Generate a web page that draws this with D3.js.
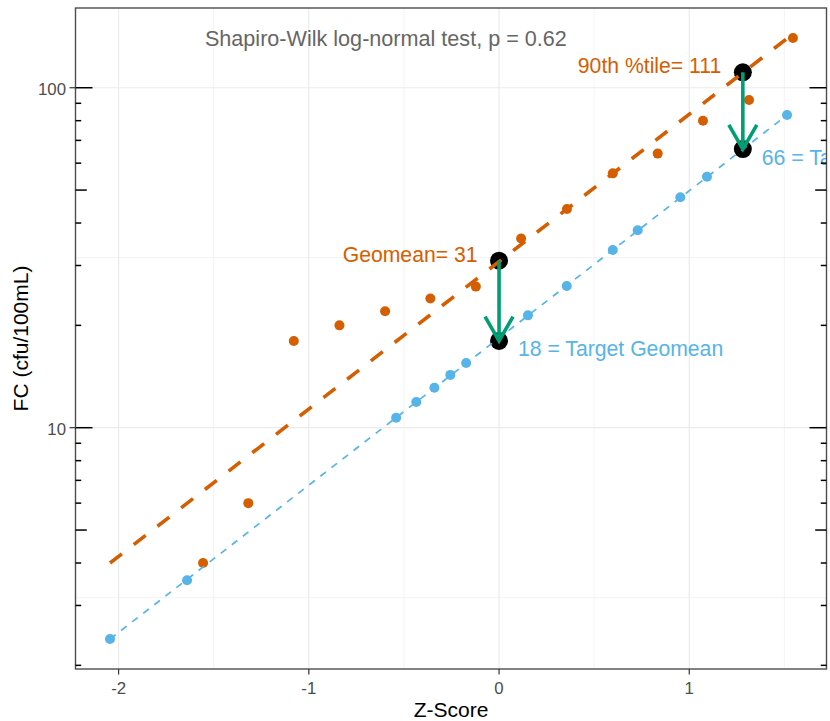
<!DOCTYPE html>
<html><head><meta charset="utf-8">
<script src="https://cdn.jsdelivr.net/npm/d3@7"></script>
<style>body{margin:0;background:#fff}svg{display:block}text{font-family:"Liberation Sans",Arial,sans-serif}</style>
</head><body>
<svg id="chart" width="830" height="721"></svg>
<script>
// ---- data ----
const zOrange = [-1.556,-1.318,-1.079,-0.839,-0.599,-0.361,-0.122,0.116,0.357,0.598,0.834,1.072,1.314,1.545];
const fcOrange = [4,6,18,20,22,24,26,36,44,56,64,80,92,140];
const zBlue = [-2.045,-1.640,-0.541,-0.435,-0.340,-0.256,-0.173,0.152,0.356,0.598,0.729,0.953,1.093,1.514];
const fcBlue = [2.39,3.56,10.7,11.9,13.1,14.3,15.5,21.4,26.1,33.3,38.1,47.6,54.7,83.1];
const lineZ = [-2.045, 1.514];
const lineOrange = [4.0, 139.6];
const lineBlue = [2.39, 83.1];
const statZ = [0, 1.2816];
const observedStat = [31, 111];
const targetStat = [18, 66];
const observedLabels = ["Geomean= 31", "90th %tile= 111"];
const targetLabels = ["18 = Target Geomean", "66 = Target 90th %tile"];
const xTicks = [-2,-1,0,1];
const xTickLabels = ["-2","-1","0","1"];
const xMinor = [-1.5,-0.5,0.5,1.5];
const yTicks = [10,100];
const yTickLabels = ["10","100"];
const yMinorGrid = [Math.sqrt(10), Math.sqrt(1000)];
const logTickVals = [2,3,4,5,6,7,8,9,10,20,30,40,50,60,70,80,90,100];
const testLabel = "Shapiro-Wilk log-normal test, p = 0.62";
const testLabelZ = -0.595, testLabelFC = 133;

const ORANGE = "#D55E00", BLUE = "#56B4E9", GREEN = "#009E73";

const svg = d3.select("#chart");
const L = 75.5, R = 826.5, T = 8, B = 669;
const x = d3.scaleLinear().domain([-2.2265, 1.7214]).range([L, R]);
const y = d3.scaleLog().domain([1.951, 171.6]).range([B, T]);

svg.append("defs").append("clipPath").attr("id","clip")
  .append("rect").attr("x",L).attr("y",T).attr("width",R-L).attr("height",B-T);

// grid
const grid = svg.append("g");
grid.selectAll(".xmin").data(xMinor).enter().append("line")
  .attr("x1",d=>x(d)).attr("x2",d=>x(d)).attr("y1",T).attr("y2",B)
  .attr("stroke","#EBEBEB").attr("stroke-width",0.6);
grid.selectAll(".ymin").data(yMinorGrid).enter().append("line")
  .attr("y1",d=>y(d)).attr("y2",d=>y(d)).attr("x1",L).attr("x2",R)
  .attr("stroke","#EBEBEB").attr("stroke-width",0.6);
grid.selectAll(".xmaj").data(xTicks).enter().append("line")
  .attr("x1",d=>x(d)).attr("x2",d=>x(d)).attr("y1",T).attr("y2",B)
  .attr("stroke","#EBEBEB").attr("stroke-width",1.2);
grid.selectAll(".ymaj").data(yTicks).enter().append("line")
  .attr("y1",d=>y(d)).attr("y2",d=>y(d)).attr("x1",L).attr("x2",R)
  .attr("stroke","#EBEBEB").attr("stroke-width",1.2);

const panel = svg.append("g").attr("clip-path","url(#clip)");

// points
panel.selectAll(".po").data(zOrange.map((z,i)=>[z,fcOrange[i]])).enter().append("circle")
  .attr("cx",d=>x(d[0])).attr("cy",d=>y(d[1])).attr("r",5).attr("fill",ORANGE);
panel.selectAll(".pb").data(zBlue.map((z,i)=>[z,fcBlue[i]])).enter().append("circle")
  .attr("cx",d=>x(d[0])).attr("cy",d=>y(d[1])).attr("r",5).attr("fill",BLUE);

// black stat points
const statPts = statZ.map((z,i)=>[z,observedStat[i]]).concat(statZ.map((z,i)=>[z,targetStat[i]]));
panel.selectAll(".pk").data(statPts).enter().append("circle")
  .attr("cx",d=>x(d[0])).attr("cy",d=>y(d[1])).attr("r",9).attr("fill","#000");

// fitted lines
const line = d3.line().x(d=>x(d[0])).y(d=>y(d[1]));
panel.append("path").datum(lineZ.map((z,i)=>[z,lineBlue[i]])).attr("d",line)
  .attr("fill","none").attr("stroke",BLUE).attr("stroke-width",1.7).attr("stroke-dasharray","7,7");
panel.append("path").datum(lineZ.map((z,i)=>[z,lineOrange[i]])).attr("d",line)
  .attr("fill","none").attr("stroke",ORANGE).attr("stroke-width",3.6).attr("stroke-dasharray","15,15");

// arrows
const AL = 28, ang = Math.PI/6;
statZ.forEach((z,i)=>{
  const xs = x(z), y0 = y(observedStat[i]), y1 = y(targetStat[i]);
  panel.append("line").attr("x1",xs).attr("x2",xs).attr("y1",y0).attr("y2",y1)
    .attr("stroke",GREEN).attr("stroke-width",3.6);
  panel.append("path")
    .attr("d",`M${xs-AL*Math.sin(ang)},${y1-AL*Math.cos(ang)}L${xs},${y1}L${xs+AL*Math.sin(ang)},${y1-AL*Math.cos(ang)}`)
    .attr("fill","none").attr("stroke",GREEN).attr("stroke-width",3.6).attr("stroke-linejoin","miter");
});

// labels
panel.append("text").attr("x",x(testLabelZ)).attr("y",y(testLabelFC)).attr("text-anchor","middle")
  .attr("font-size",21.6).attr("fill","#666666").text(testLabel);
statZ.forEach((z,i)=>{
  panel.append("text").attr("x",x(z)-21.5).attr("y",y(observedStat[i])+1)
    .attr("text-anchor","end").attr("font-size",21.2).attr("fill",ORANGE).text(observedLabels[i]);
  panel.append("text").attr("x",x(z)+19).attr("y",y(targetStat[i])+15.5)
    .attr("text-anchor","start").attr("font-size",21.2).attr("fill",BLUE).text(targetLabels[i]);
});

// panel border
svg.append("rect").attr("x",L).attr("y",T).attr("width",R-L).attr("height",B-T)
  .attr("fill","none").attr("stroke","#4D4D4D").attr("stroke-width",1.4);

// log ticks (left and right, inside)
const tickLen = v => { const m = v/Math.pow(10,Math.floor(Math.log10(v)+1e-9)); return Math.abs(m-1)<1e-6?17:(Math.abs(m-5)<1e-6?11.3:5.7); };
const lt = svg.append("g");
logTickVals.forEach(v=>{
  const yy = y(v);
  lt.append("line").attr("x1",L).attr("x2",L+tickLen(v)).attr("y1",yy).attr("y2",yy).attr("stroke","#000").attr("stroke-width",1.5);
  lt.append("line").attr("x1",R).attr("x2",R-tickLen(v)).attr("y1",yy).attr("y2",yy).attr("stroke","#000").attr("stroke-width",1.5);
});

// axes ticks + labels
const ax = svg.append("g");
xTicks.forEach((t,i)=>{
  ax.append("line").attr("x1",x(t)).attr("x2",x(t)).attr("y1",B).attr("y2",B+5.5).attr("stroke","#333").attr("stroke-width",1.2);
  ax.append("text").attr("x",x(t)).attr("y",B+24.5).attr("text-anchor","middle")
    .attr("font-size",16.8).attr("fill","#4D4D4D").text(xTickLabels[i]);
});
yTicks.forEach((t,i)=>{
  ax.append("line").attr("x1",L-6).attr("x2",L).attr("y1",y(t)).attr("y2",y(t)).attr("stroke","#333").attr("stroke-width",1.2);
  ax.append("text").attr("x",L-9.5).attr("y",y(t)+7.6).attr("text-anchor","end")
    .attr("font-size",16.8).attr("fill","#4D4D4D").text(yTickLabels[i]);
});

// axis titles
svg.append("text").attr("x",(L+R)/2).attr("y",717).attr("text-anchor","middle")
  .attr("font-size",21).attr("fill","#000").text("Z-Score");
svg.append("text").attr("transform",`translate(28,${(T+B)/2}) rotate(-90)`).attr("text-anchor","middle")
  .attr("font-size",21).attr("fill","#000").text("FC (cfu/100mL)");
</script>
</body></html>
